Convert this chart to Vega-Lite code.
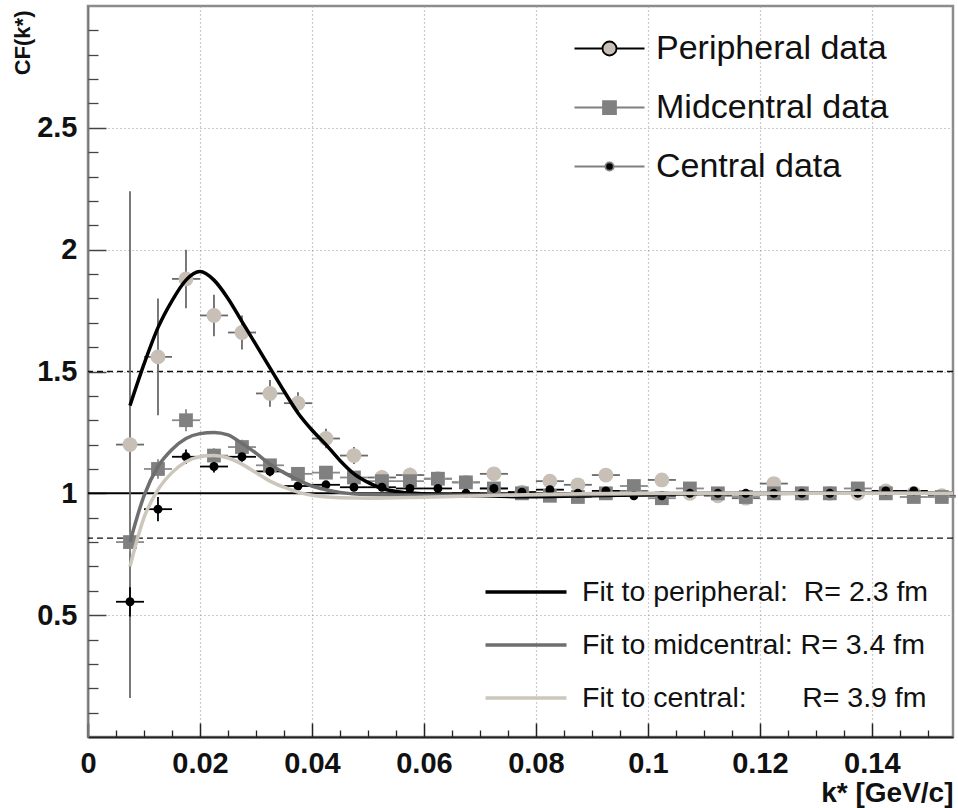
{
  "$schema": "https://vega.github.io/schema/vega-lite/v6.json",
  "width": 865,
  "height": 731,
  "autosize": {"type": "none"},
  "padding": {"left": 88, "top": 6, "right": 5, "bottom": 71},
  "background": "white",
  "config": {
    "view": {"stroke": "#8c8c8c", "strokeWidth": 2.5},
    "font": "Liberation Sans",
    "axis": {
      "labelFont": "Liberation Sans",
      "labelFontWeight": "bold",
      "labelFontSize": 29,
      "labelColor": "#111111",
      "tickColor": "#333333",
      "titleFont": "Liberation Sans",
      "titleFontWeight": "bold",
      "titleColor": "#111111"
    }
  },
  "datasets": {
    "pts": [
      {"series": "Peripheral data", "k": 0.0075, "cf": 1.20, "err": 1.04, "kerr": 0.0025},
      {"series": "Peripheral data", "k": 0.0125, "cf": 1.56, "err": 0.24, "kerr": 0.0025},
      {"series": "Peripheral data", "k": 0.0175, "cf": 1.88, "err": 0.12, "kerr": 0.0025},
      {"series": "Peripheral data", "k": 0.0225, "cf": 1.73, "err": 0.085, "kerr": 0.0025},
      {"series": "Peripheral data", "k": 0.0275, "cf": 1.66, "err": 0.07, "kerr": 0.0025},
      {"series": "Peripheral data", "k": 0.0325, "cf": 1.41, "err": 0.055, "kerr": 0.0025},
      {"series": "Peripheral data", "k": 0.0375, "cf": 1.37, "err": 0.045, "kerr": 0.0025},
      {"series": "Peripheral data", "k": 0.0425, "cf": 1.225, "err": 0.04, "kerr": 0.0025},
      {"series": "Peripheral data", "k": 0.0475, "cf": 1.155, "err": 0.035, "kerr": 0.0025},
      {"series": "Peripheral data", "k": 0.0525, "cf": 1.065, "err": 0.03, "kerr": 0.0025},
      {"series": "Peripheral data", "k": 0.0575, "cf": 1.075, "err": 0.03, "kerr": 0.0025},
      {"series": "Peripheral data", "k": 0.0625, "cf": 1.06, "err": 0.025, "kerr": 0.0025},
      {"series": "Peripheral data", "k": 0.0675, "cf": 1.045, "err": 0.025, "kerr": 0.0025},
      {"series": "Peripheral data", "k": 0.0725, "cf": 1.08, "err": 0.025, "kerr": 0.0025},
      {"series": "Peripheral data", "k": 0.0775, "cf": 1.005, "err": 0.02, "kerr": 0.0025},
      {"series": "Peripheral data", "k": 0.0825, "cf": 1.05, "err": 0.02, "kerr": 0.0025},
      {"series": "Peripheral data", "k": 0.0875, "cf": 1.035, "err": 0.02, "kerr": 0.0025},
      {"series": "Peripheral data", "k": 0.0925, "cf": 1.075, "err": 0.02, "kerr": 0.0025},
      {"series": "Peripheral data", "k": 0.0975, "cf": 1.01, "err": 0.02, "kerr": 0.0025},
      {"series": "Peripheral data", "k": 0.1025, "cf": 1.055, "err": 0.02, "kerr": 0.0025},
      {"series": "Peripheral data", "k": 0.1075, "cf": 1.0, "err": 0.02, "kerr": 0.0025},
      {"series": "Peripheral data", "k": 0.1125, "cf": 0.99, "err": 0.02, "kerr": 0.0025},
      {"series": "Peripheral data", "k": 0.1175, "cf": 0.98, "err": 0.02, "kerr": 0.0025},
      {"series": "Peripheral data", "k": 0.1225, "cf": 1.04, "err": 0.02, "kerr": 0.0025},
      {"series": "Peripheral data", "k": 0.1275, "cf": 1.0, "err": 0.02, "kerr": 0.0025},
      {"series": "Peripheral data", "k": 0.1325, "cf": 1.0, "err": 0.02, "kerr": 0.0025},
      {"series": "Peripheral data", "k": 0.1375, "cf": 1.0, "err": 0.02, "kerr": 0.0025},
      {"series": "Peripheral data", "k": 0.1425, "cf": 1.01, "err": 0.02, "kerr": 0.0025},
      {"series": "Peripheral data", "k": 0.1475, "cf": 1.0, "err": 0.02, "kerr": 0.0025},
      {"series": "Peripheral data", "k": 0.1525, "cf": 0.99, "err": 0.02, "kerr": 0.0025},
      {"series": "Midcentral data", "k": 0.0075, "cf": 0.80, "err": 0.04, "kerr": 0.0025},
      {"series": "Midcentral data", "k": 0.0125, "cf": 1.10, "err": 0.04, "kerr": 0.0025},
      {"series": "Midcentral data", "k": 0.0175, "cf": 1.30, "err": 0.045, "kerr": 0.0025},
      {"series": "Midcentral data", "k": 0.0225, "cf": 1.155, "err": 0.03, "kerr": 0.0025},
      {"series": "Midcentral data", "k": 0.0275, "cf": 1.19, "err": 0.03, "kerr": 0.0025},
      {"series": "Midcentral data", "k": 0.0325, "cf": 1.115, "err": 0.025, "kerr": 0.0025},
      {"series": "Midcentral data", "k": 0.0375, "cf": 1.08, "err": 0.02, "kerr": 0.0025},
      {"series": "Midcentral data", "k": 0.0425, "cf": 1.085, "err": 0.02, "kerr": 0.0025},
      {"series": "Midcentral data", "k": 0.0475, "cf": 1.065, "err": 0.02, "kerr": 0.0025},
      {"series": "Midcentral data", "k": 0.0525, "cf": 1.05, "err": 0.015, "kerr": 0.0025},
      {"series": "Midcentral data", "k": 0.0575, "cf": 1.05, "err": 0.015, "kerr": 0.0025},
      {"series": "Midcentral data", "k": 0.0625, "cf": 1.06, "err": 0.015, "kerr": 0.0025},
      {"series": "Midcentral data", "k": 0.0675, "cf": 1.045, "err": 0.015, "kerr": 0.0025},
      {"series": "Midcentral data", "k": 0.0725, "cf": 1.02, "err": 0.015, "kerr": 0.0025},
      {"series": "Midcentral data", "k": 0.0775, "cf": 1.0, "err": 0.015, "kerr": 0.0025},
      {"series": "Midcentral data", "k": 0.0825, "cf": 0.99, "err": 0.015, "kerr": 0.0025},
      {"series": "Midcentral data", "k": 0.0875, "cf": 0.985, "err": 0.015, "kerr": 0.0025},
      {"series": "Midcentral data", "k": 0.0925, "cf": 1.0, "err": 0.015, "kerr": 0.0025},
      {"series": "Midcentral data", "k": 0.0975, "cf": 1.03, "err": 0.015, "kerr": 0.0025},
      {"series": "Midcentral data", "k": 0.1025, "cf": 0.98, "err": 0.015, "kerr": 0.0025},
      {"series": "Midcentral data", "k": 0.1075, "cf": 1.02, "err": 0.015, "kerr": 0.0025},
      {"series": "Midcentral data", "k": 0.1125, "cf": 1.0, "err": 0.015, "kerr": 0.0025},
      {"series": "Midcentral data", "k": 0.1175, "cf": 0.985, "err": 0.015, "kerr": 0.0025},
      {"series": "Midcentral data", "k": 0.1225, "cf": 1.0, "err": 0.015, "kerr": 0.0025},
      {"series": "Midcentral data", "k": 0.1275, "cf": 1.0, "err": 0.015, "kerr": 0.0025},
      {"series": "Midcentral data", "k": 0.1325, "cf": 1.0, "err": 0.015, "kerr": 0.0025},
      {"series": "Midcentral data", "k": 0.1375, "cf": 1.02, "err": 0.015, "kerr": 0.0025},
      {"series": "Midcentral data", "k": 0.1425, "cf": 1.0, "err": 0.015, "kerr": 0.0025},
      {"series": "Midcentral data", "k": 0.1475, "cf": 0.985, "err": 0.015, "kerr": 0.0025},
      {"series": "Midcentral data", "k": 0.1525, "cf": 0.985, "err": 0.015, "kerr": 0.0025},
      {"series": "Central data", "k": 0.0075, "cf": 0.555, "err": 0.06, "kerr": 0.0025},
      {"series": "Central data", "k": 0.0125, "cf": 0.935, "err": 0.05, "kerr": 0.0025},
      {"series": "Central data", "k": 0.0175, "cf": 1.15, "err": 0.03, "kerr": 0.0025},
      {"series": "Central data", "k": 0.0225, "cf": 1.11, "err": 0.025, "kerr": 0.0025},
      {"series": "Central data", "k": 0.0275, "cf": 1.15, "err": 0.02, "kerr": 0.0025},
      {"series": "Central data", "k": 0.0325, "cf": 1.09, "err": 0.02, "kerr": 0.0025},
      {"series": "Central data", "k": 0.0375, "cf": 1.03, "err": 0.015, "kerr": 0.0025},
      {"series": "Central data", "k": 0.0425, "cf": 1.035, "err": 0.015, "kerr": 0.0025},
      {"series": "Central data", "k": 0.0475, "cf": 1.025, "err": 0.015, "kerr": 0.0025},
      {"series": "Central data", "k": 0.0525, "cf": 1.025, "err": 0.012, "kerr": 0.0025},
      {"series": "Central data", "k": 0.0575, "cf": 1.02, "err": 0.012, "kerr": 0.0025},
      {"series": "Central data", "k": 0.0625, "cf": 1.02, "err": 0.012, "kerr": 0.0025},
      {"series": "Central data", "k": 0.0675, "cf": 1.0, "err": 0.012, "kerr": 0.0025},
      {"series": "Central data", "k": 0.0725, "cf": 1.02, "err": 0.012, "kerr": 0.0025},
      {"series": "Central data", "k": 0.0775, "cf": 1.005, "err": 0.012, "kerr": 0.0025},
      {"series": "Central data", "k": 0.0825, "cf": 1.015, "err": 0.012, "kerr": 0.0025},
      {"series": "Central data", "k": 0.0875, "cf": 1.0, "err": 0.012, "kerr": 0.0025},
      {"series": "Central data", "k": 0.0925, "cf": 1.01, "err": 0.012, "kerr": 0.0025},
      {"series": "Central data", "k": 0.0975, "cf": 0.99, "err": 0.012, "kerr": 0.0025},
      {"series": "Central data", "k": 0.1025, "cf": 0.99, "err": 0.012, "kerr": 0.0025},
      {"series": "Central data", "k": 0.1075, "cf": 1.0, "err": 0.012, "kerr": 0.0025},
      {"series": "Central data", "k": 0.1125, "cf": 1.0, "err": 0.012, "kerr": 0.0025},
      {"series": "Central data", "k": 0.1175, "cf": 1.0, "err": 0.012, "kerr": 0.0025},
      {"series": "Central data", "k": 0.1225, "cf": 1.0, "err": 0.012, "kerr": 0.0025},
      {"series": "Central data", "k": 0.1275, "cf": 1.0, "err": 0.012, "kerr": 0.0025},
      {"series": "Central data", "k": 0.1325, "cf": 1.0, "err": 0.012, "kerr": 0.0025},
      {"series": "Central data", "k": 0.1375, "cf": 1.0, "err": 0.012, "kerr": 0.0025},
      {"series": "Central data", "k": 0.1425, "cf": 1.01, "err": 0.012, "kerr": 0.0025},
      {"series": "Central data", "k": 0.1475, "cf": 1.01, "err": 0.012, "kerr": 0.0025}
    ],
    "fits": [
      {"fit": "peripheral", "k": 0.0075, "cf": 1.36},
      {"fit": "peripheral", "k": 0.01, "cf": 1.53},
      {"fit": "peripheral", "k": 0.0125, "cf": 1.68},
      {"fit": "peripheral", "k": 0.015, "cf": 1.79},
      {"fit": "peripheral", "k": 0.0175, "cf": 1.875},
      {"fit": "peripheral", "k": 0.02, "cf": 1.91},
      {"fit": "peripheral", "k": 0.0225, "cf": 1.875},
      {"fit": "peripheral", "k": 0.025, "cf": 1.8},
      {"fit": "peripheral", "k": 0.0275, "cf": 1.705},
      {"fit": "peripheral", "k": 0.03, "cf": 1.61},
      {"fit": "peripheral", "k": 0.0325, "cf": 1.515},
      {"fit": "peripheral", "k": 0.035, "cf": 1.42},
      {"fit": "peripheral", "k": 0.0375, "cf": 1.33},
      {"fit": "peripheral", "k": 0.04, "cf": 1.26},
      {"fit": "peripheral", "k": 0.0425, "cf": 1.2},
      {"fit": "peripheral", "k": 0.045, "cf": 1.135},
      {"fit": "peripheral", "k": 0.0475, "cf": 1.08},
      {"fit": "peripheral", "k": 0.05, "cf": 1.045},
      {"fit": "peripheral", "k": 0.0525, "cf": 1.02},
      {"fit": "peripheral", "k": 0.055, "cf": 1.008},
      {"fit": "peripheral", "k": 0.06, "cf": 0.998},
      {"fit": "peripheral", "k": 0.065, "cf": 0.993},
      {"fit": "peripheral", "k": 0.07, "cf": 0.99},
      {"fit": "peripheral", "k": 0.08, "cf": 0.986},
      {"fit": "peripheral", "k": 0.09, "cf": 0.99},
      {"fit": "peripheral", "k": 0.1, "cf": 0.995},
      {"fit": "peripheral", "k": 0.11, "cf": 0.999},
      {"fit": "peripheral", "k": 0.13, "cf": 1.0},
      {"fit": "peripheral", "k": 0.1545, "cf": 1.0},
      {"fit": "midcentral", "k": 0.0075, "cf": 0.8},
      {"fit": "midcentral", "k": 0.01, "cf": 0.99},
      {"fit": "midcentral", "k": 0.0125, "cf": 1.11},
      {"fit": "midcentral", "k": 0.015, "cf": 1.18},
      {"fit": "midcentral", "k": 0.0175, "cf": 1.225},
      {"fit": "midcentral", "k": 0.02, "cf": 1.245},
      {"fit": "midcentral", "k": 0.0225, "cf": 1.25},
      {"fit": "midcentral", "k": 0.025, "cf": 1.24},
      {"fit": "midcentral", "k": 0.0275, "cf": 1.205},
      {"fit": "midcentral", "k": 0.03, "cf": 1.165},
      {"fit": "midcentral", "k": 0.0325, "cf": 1.12},
      {"fit": "midcentral", "k": 0.035, "cf": 1.085},
      {"fit": "midcentral", "k": 0.0375, "cf": 1.055},
      {"fit": "midcentral", "k": 0.04, "cf": 1.03},
      {"fit": "midcentral", "k": 0.0425, "cf": 1.015},
      {"fit": "midcentral", "k": 0.045, "cf": 1.004},
      {"fit": "midcentral", "k": 0.05, "cf": 0.995},
      {"fit": "midcentral", "k": 0.06, "cf": 0.992},
      {"fit": "midcentral", "k": 0.08, "cf": 0.993},
      {"fit": "midcentral", "k": 0.1, "cf": 0.998},
      {"fit": "midcentral", "k": 0.12, "cf": 1.0},
      {"fit": "midcentral", "k": 0.1545, "cf": 1.0},
      {"fit": "central", "k": 0.0075, "cf": 0.70},
      {"fit": "central", "k": 0.01, "cf": 0.9},
      {"fit": "central", "k": 0.0125, "cf": 1.015},
      {"fit": "central", "k": 0.015, "cf": 1.085},
      {"fit": "central", "k": 0.0175, "cf": 1.13},
      {"fit": "central", "k": 0.02, "cf": 1.15},
      {"fit": "central", "k": 0.0225, "cf": 1.155},
      {"fit": "central", "k": 0.025, "cf": 1.145},
      {"fit": "central", "k": 0.0275, "cf": 1.12},
      {"fit": "central", "k": 0.03, "cf": 1.085},
      {"fit": "central", "k": 0.0325, "cf": 1.05},
      {"fit": "central", "k": 0.035, "cf": 1.025},
      {"fit": "central", "k": 0.0375, "cf": 1.005},
      {"fit": "central", "k": 0.04, "cf": 0.992},
      {"fit": "central", "k": 0.045, "cf": 0.982},
      {"fit": "central", "k": 0.05, "cf": 0.98},
      {"fit": "central", "k": 0.06, "cf": 0.984},
      {"fit": "central", "k": 0.07, "cf": 0.99},
      {"fit": "central", "k": 0.08, "cf": 0.995},
      {"fit": "central", "k": 0.1, "cf": 1.0},
      {"fit": "central", "k": 0.1545, "cf": 1.0}
    ]
  },
  "resolve": {"axis": {"x": "independent", "y": "independent"}},
  "layer": [
    {
      "data": {"values": [{"level": 1.5}, {"level": 0.816}]},
      "mark": {"type": "rule", "color": "#111111", "strokeWidth": 1.3, "strokeDash": [6, 4]},
      "encoding": {
        "y": {"field": "level", "type": "quantitative", "axis": null, "scale": {"domain": [0, 3], "nice": false, "zero": false}}
      }
    },
    {
      "data": {"values": [{"level": 1.0}]},
      "mark": {"type": "rule", "color": "#000000", "strokeWidth": 2},
      "encoding": {
        "y": {"field": "level", "type": "quantitative", "axis": null}
      }
    },
    {
      "data": {"name": "pts"},
      "transform": [{"filter": "datum.series === 'Peripheral data'"}],
      "mark": {"type": "errorbar", "ticks": false, "color": "#6a6a6a", "rule": {"strokeWidth": 1.8}},
      "encoding": {
        "x": {"field": "k", "type": "quantitative", "axis": null, "scale": {"domain": [0, 0.1545], "nice": false, "zero": false}},
        "y": {"field": "cf", "type": "quantitative", "axis": null},
        "yError": {"field": "err"}
      }
    },
    {
      "data": {"name": "pts"},
      "transform": [{"filter": "datum.series === 'Peripheral data'"}],
      "mark": {"type": "errorbar", "ticks": false, "color": "#6a6a6a", "rule": {"strokeWidth": 1.8}},
      "encoding": {
        "x": {"field": "k", "type": "quantitative", "axis": null},
        "xError": {"field": "kerr"},
        "y": {"field": "cf", "type": "quantitative", "axis": null}
      }
    },
    {
      "data": {"name": "pts"},
      "transform": [{"filter": "datum.series === 'Midcentral data'"}],
      "mark": {"type": "errorbar", "ticks": false, "color": "#8a8a8a", "rule": {"strokeWidth": 1.8}},
      "encoding": {
        "x": {"field": "k", "type": "quantitative", "axis": null},
        "y": {"field": "cf", "type": "quantitative", "axis": null},
        "yError": {"field": "err"}
      }
    },
    {
      "data": {"name": "pts"},
      "transform": [{"filter": "datum.series === 'Midcentral data'"}],
      "mark": {"type": "errorbar", "ticks": false, "color": "#8a8a8a", "rule": {"strokeWidth": 1.8}},
      "encoding": {
        "x": {"field": "k", "type": "quantitative", "axis": null},
        "xError": {"field": "kerr"},
        "y": {"field": "cf", "type": "quantitative", "axis": null}
      }
    },
    {
      "data": {"name": "pts"},
      "transform": [{"filter": "datum.series === 'Central data'"}],
      "mark": {"type": "errorbar", "ticks": false, "color": "#000000", "rule": {"strokeWidth": 1.8}},
      "encoding": {
        "x": {"field": "k", "type": "quantitative", "axis": null},
        "y": {"field": "cf", "type": "quantitative", "axis": null},
        "yError": {"field": "err"}
      }
    },
    {
      "data": {"name": "pts"},
      "transform": [{"filter": "datum.series === 'Central data'"}],
      "mark": {"type": "errorbar", "ticks": false, "color": "#000000", "rule": {"strokeWidth": 1.8}},
      "encoding": {
        "x": {"field": "k", "type": "quantitative", "axis": null},
        "xError": {"field": "kerr"},
        "y": {"field": "cf", "type": "quantitative", "axis": null}
      }
    },
    {
      "data": {"name": "pts"},
      "transform": [{"filter": "datum.series === 'Peripheral data'"}],
      "mark": {"type": "point", "shape": "circle", "filled": true, "size": 220, "opacity": 1, "strokeWidth": 0, "color": "#c8c0b6"},
      "encoding": {
        "x": {"field": "k", "type": "quantitative", "axis": {
          "orient": "bottom", "values": [0, 0.02, 0.04, 0.06, 0.08, 0.1, 0.12, 0.14], "format": "~g",
          "tickSize": -14, "tickWidth": 1.5, "tickColor": "#222222", "domainColor": "#222222", "domainWidth": 2,
          "labelPadding": 26, "labelFlush": false, "grid": true, "gridColor": "#9a9a9a", "gridDash": [1, 3], "gridWidth": 1.2,
          "title": "k* [GeV/c]", "titleFontSize": 28, "titleX": 865, "titleY": 56, "titleAlign": "right", "titleBaseline": "middle", "titleAngle": 0
        }},
        "y": {"field": "cf", "type": "quantitative", "axis": {
          "orient": "left", "values": [0.5, 1, 1.5, 2, 2.5], "format": "~g",
          "tickSize": -18, "tickWidth": 1.5, "tickColor": "#444444", "domainColor": "#777777", "domainWidth": 1.5,
          "labelPadding": 29, "grid": true, "gridColor": "#9a9a9a", "gridDash": [1, 3], "gridWidth": 1.2,
          "title": "CF(k*)", "titleFontSize": 22, "titleX": -66, "titleY": 4, "titleAngle": -90, "titleAlign": "right", "titleBaseline": "middle"
        }}
      }
    },
    {
      "data": {"name": "pts"},
      "transform": [{"filter": "datum.series === 'Midcentral data'"}],
      "mark": {"type": "point", "shape": "square", "filled": true, "size": 190, "opacity": 1, "strokeWidth": 0, "color": "#808080"},
      "encoding": {
        "x": {"field": "k", "type": "quantitative", "axis": null},
        "y": {"field": "cf", "type": "quantitative", "axis": null}
      }
    },
    {
      "data": {"name": "pts"},
      "transform": [{"filter": "datum.series === 'Central data'"}],
      "mark": {"type": "point", "shape": "circle", "filled": true, "size": 80, "opacity": 1, "strokeWidth": 0, "color": "#000000"},
      "encoding": {
        "x": {"field": "k", "type": "quantitative", "axis": null},
        "y": {"field": "cf", "type": "quantitative", "axis": null}
      }
    },
    {
      "data": {"name": "pts"},
      "mark": {"type": "point", "filled": false, "size": 1225, "opacity": 0, "strokeWidth": 1.8},
      "encoding": {
        "x": {"field": "k", "type": "quantitative", "axis": null},
        "y": {"field": "cf", "type": "quantitative", "axis": null},
        "fill": {"field": "series", "type": "nominal",
          "scale": {"domain": ["Peripheral data", "Midcentral data", "Central data"], "range": ["#c8c0b6", "#808080", "#000000"]},
          "legend": {
            "orient": "none", "legendX": 503, "legendY": 24, "title": null, "padding": 0,
            "symbolSize": 1225, "symbolOpacity": 1, "symbolStrokeWidth": 1.8,
            "labelFont": "Liberation Sans", "labelFontSize": 34, "labelColor": "#111111",
            "labelOffset": 28, "rowPadding": 23, "labelLimit": 0
          }},
        "stroke": {"field": "series", "type": "nominal",
          "scale": {"domain": ["Peripheral data", "Midcentral data", "Central data"], "range": ["#000000", "#808080", "#808080"]},
          "legend": {
            "orient": "none", "legendX": 503, "legendY": 24, "title": null, "padding": 0,
            "symbolSize": 1225, "symbolOpacity": 1, "symbolStrokeWidth": 1.8,
            "labelFont": "Liberation Sans", "labelFontSize": 34, "labelColor": "#111111",
            "labelOffset": 28, "rowPadding": 23, "labelLimit": 0
          }},
        "shape": {"field": "series", "type": "nominal",
          "scale": {"domain": ["Peripheral data", "Midcentral data", "Central data"], "range": [
            "M-2,0H-0.4M0.4,0H2M0.4,0A0.4,0.4,0,1,1,-0.4,0A0.4,0.4,0,1,1,0.4,0Z",
            "M-2,0H-0.37M0.37,0H2M-0.37,-0.37H0.37V0.37H-0.37Z",
            "M-2,0H-0.24M0.24,0H2M0.24,0A0.24,0.24,0,1,1,-0.24,0A0.24,0.24,0,1,1,0.24,0Z"
          ]},
          "legend": {
            "orient": "none", "legendX": 503, "legendY": 24, "title": null, "padding": 0,
            "symbolSize": 1225, "symbolOpacity": 1, "symbolStrokeWidth": 1.8,
            "labelFont": "Liberation Sans", "labelFontSize": 34, "labelColor": "#111111",
            "labelOffset": 28, "rowPadding": 23, "labelLimit": 0
          }}
      }
    },
    {
      "data": {"name": "fits"},
      "mark": {"type": "line", "strokeWidth": 3.5, "interpolate": "monotone"},
      "encoding": {
        "x": {"field": "k", "type": "quantitative", "axis": {
          "orient": "bottom", "values": [0.005, 0.01, 0.015, 0.025, 0.03, 0.035, 0.045, 0.05, 0.055, 0.065, 0.07, 0.075, 0.085, 0.09, 0.095, 0.105, 0.11, 0.115, 0.125, 0.13, 0.135, 0.145, 0.15],
          "labels": false, "tickSize": -7, "tickWidth": 1.3, "tickColor": "#222222", "domain": false, "grid": false, "title": null
        }},
        "y": {"field": "cf", "type": "quantitative", "axis": {
          "orient": "left", "values": [0.1, 0.2, 0.3, 0.4, 0.6, 0.7, 0.8, 0.9, 1.1, 1.2, 1.3, 1.4, 1.6, 1.7, 1.8, 1.9, 2.1, 2.2, 2.3, 2.4, 2.6, 2.7, 2.8, 2.9],
          "labels": false, "tickSize": -10, "tickWidth": 1.3, "tickColor": "#444444", "domain": false, "grid": false, "title": null
        }},
        "color": {"field": "fit", "type": "nominal",
          "scale": {"domain": ["peripheral", "midcentral", "central"], "range": ["#000000", "#6e6e6e", "#cdc6bd"]},
          "legend": {
            "orient": "none", "legendX": 416, "legendY": 564, "title": null, "padding": 0,
            "symbolType": "M-2,0H2", "symbolSize": 1640, "symbolStrokeWidth": 3.5,
            "labelFont": "Liberation Sans", "labelFontSize": 28.5, "labelColor": "#111111",
            "labelOffset": 34, "rowPadding": 16, "labelLimit": 0,
            "labelExpr": "datum.value === 'peripheral' ? 'Fit to peripheral:\u00a0\u00a0R= 2.3 fm' : (datum.value === 'midcentral' ? 'Fit to midcentral:\u00a0R= 3.4 fm' : 'Fit to central:\u00a0\u00a0\u00a0\u00a0\u00a0\u00a0\u00a0R= 3.9 fm')"
          }}
      }
    }
  ]
}
